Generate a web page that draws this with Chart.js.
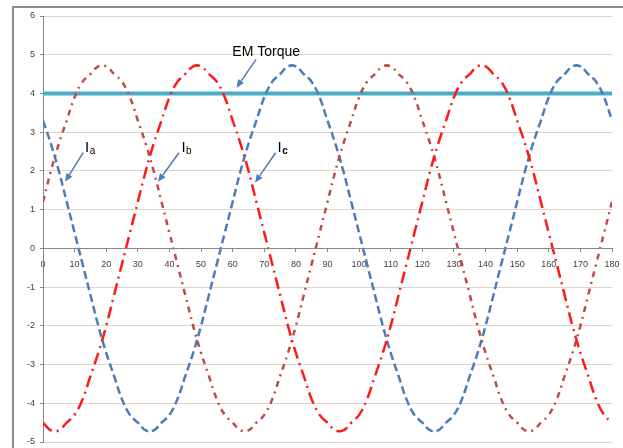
<!DOCTYPE html>
<html>
<head>
<meta charset="utf-8">
<script src="https://cdn.jsdelivr.net/npm/chart.js"></script>
<style>
  body { margin: 0; background: #fff; overflow: hidden; }
  #wrap { position: relative; width: 623px; height: 448px; }
  #frame { position: absolute; left: 12px; top: 6px; width: 700px; height: 600px;
           border-left: 2px solid #8c8c8c; border-top: 2px solid #8c8c8c; }
  canvas { position: absolute; left: 0; top: 0; }
</style>
</head>
<body>
<div id="wrap">
  <div id="frame"></div>
  <canvas id="chart"></canvas>
</div>
<script>
// angle (deg) along the x axis
const angles = [0,2.5,5,7.5,10,12.5,15,17.5,20,22.5,25,27.5,30,32.5,35,37.5,40,42.5,45,47.5,
  50,52.5,55,57.5,60,62.5,65,67.5,70,72.5,75,77.5,80,82.5,85,87.5,90,92.5,95,97.5,
  100,102.5,105,107.5,110,112.5,115,117.5,120,122.5,125,127.5,130,132.5,135,137.5,140,142.5,145,147.5,
  150,152.5,155,157.5,160,162.5,165,167.5,170,172.5,175,177.5,180];

// phase currents
const currentA = [3.3,2.7,2.0,1.2,0.4,-0.4,-1.2,-2.0,-2.7,-3.3,-3.9,-4.3,-4.5,-4.7,-4.7,-4.5,-4.3,-3.9,-3.3,-2.7,
  -2.0,-1.2,-0.4,0.4,1.2,2.0,2.7,3.3,3.9,4.3,4.5,4.7,4.7,4.5,4.3,3.9,
  3.3,2.7,2.0,1.2,0.4,-0.4,-1.2,-2.0,-2.7,-3.3,-3.9,-4.3,-4.5,-4.7,-4.7,-4.5,-4.3,-3.9,-3.3,-2.7,
  -2.0,-1.2,-0.4,0.4,1.2,2.0,2.7,3.3,3.9,4.3,4.5,4.7,4.7,4.5,4.3,3.9,3.3];
const currentB = [1.2,2.0,2.7,3.3,3.9,4.3,4.5,4.7,4.7,4.5,4.3,3.9,3.3,2.7,2.0,1.2,0.4,-0.4,-1.2,-2.0,
  -2.7,-3.3,-3.9,-4.3,-4.5,-4.7,-4.7,-4.5,-4.3,-3.9,-3.3,-2.7,-2.0,-1.2,-0.4,0.4,
  1.2,2.0,2.7,3.3,3.9,4.3,4.5,4.7,4.7,4.5,4.3,3.9,3.3,2.7,2.0,1.2,0.4,-0.4,-1.2,-2.0,
  -2.7,-3.3,-3.9,-4.3,-4.5,-4.7,-4.7,-4.5,-4.3,-3.9,-3.3,-2.7,-2.0,-1.2,-0.4,0.4,1.2];
const currentC = [-4.5,-4.7,-4.7,-4.5,-4.3,-3.9,-3.3,-2.7,-2.0,-1.2,-0.4,0.4,1.2,2.0,2.7,3.3,3.9,4.3,4.5,4.7,
  4.7,4.5,4.3,3.9,3.3,2.7,2.0,1.2,0.4,-0.4,-1.2,-2.0,-2.7,-3.3,-3.9,-4.3,
  -4.5,-4.7,-4.7,-4.5,-4.3,-3.9,-3.3,-2.7,-2.0,-1.2,-0.4,0.4,1.2,2.0,2.7,3.3,3.9,4.3,4.5,4.7,
  4.7,4.5,4.3,3.9,3.3,2.7,2.0,1.2,0.4,-0.4,-1.2,-2.0,-2.7,-3.3,-3.9,-4.3,-4.5];

// EM torque (flat)
const torqueAngles = [0, 180];
const torqueValues = [4, 4];

// callouts, in data units: label, subscript, text anchor, arrow start, arrow tip
const callouts = [
  { text: 'EM Torque', sub: '', at: [70.6, 5.06], from: [67.4, 4.88], to: [61.2, 4.15] },
  { text: 'I', sub: 'a', at: [13.3, 2.50], from: [12.7, 2.47], to: [7.0, 1.72] },
  { text: 'I', sub: 'b', at: [43.8, 2.50], from: [43.0, 2.47], to: [36.4, 1.72] },
  { text: 'I', sub: 'c', at: [74.2, 2.50], from: [73.6, 2.47], to: [67.1, 1.70], bold: true }
];

const pts = (xs, ys) => xs.map((x, i) => ({ x: x, y: ys[i] }));

const calloutPlugin = {
  id: 'callouts',
  afterDatasetsDraw(chart) {
    const ctx = chart.ctx;
    const sx = chart.scales.x, sy = chart.scales.y;
    ctx.save();
    callouts.forEach(c => {
      const ax = sx.getPixelForValue(c.from[0]), ay = sy.getPixelForValue(c.from[1]);
      const bx = sx.getPixelForValue(c.to[0]), by = sy.getPixelForValue(c.to[1]);
      const ang = Math.atan2(by - ay, bx - ax);
      const head = 8, half = 3.5;
      const hx = bx - head * Math.cos(ang), hy = by - head * Math.sin(ang);
      ctx.strokeStyle = '#4a7ebb';
      ctx.fillStyle = '#4a7ebb';
      ctx.lineWidth = 1.5;
      ctx.beginPath();
      ctx.moveTo(ax, ay);
      ctx.lineTo(hx, hy);
      ctx.stroke();
      ctx.beginPath();
      ctx.moveTo(bx, by);
      ctx.lineTo(hx + half * Math.sin(ang), hy - half * Math.cos(ang));
      ctx.lineTo(hx - half * Math.sin(ang), hy + half * Math.cos(ang));
      ctx.closePath();
      ctx.fill();

      const tx = sx.getPixelForValue(c.at[0]), ty = sy.getPixelForValue(c.at[1]);
      ctx.fillStyle = '#000';
      if (!c.sub) {
        ctx.font = '14px "Liberation Sans", Arial, sans-serif';
        ctx.textAlign = 'center';
        ctx.textBaseline = 'middle';
        ctx.fillText(c.text, tx, ty);
      } else {
        ctx.textAlign = 'left';
        ctx.textBaseline = 'alphabetic';
        ctx.font = '15px "Liberation Sans", Arial, sans-serif';
        ctx.fillText(c.text, tx, ty);
        const w = ctx.measureText(c.text).width;
        ctx.font = (c.bold ? 'bold ' : '') + '10px "Liberation Sans", Arial, sans-serif';
        ctx.fillText(c.sub, tx + w + 0.5, ty + 2.5);
      }
    });
    ctx.restore();
  }
};

const tickFont = { family: '"Liberation Sans", Arial, sans-serif', size: 9 };

new Chart(document.getElementById('chart'), {
  type: 'line',
  data: {
    datasets: [
      {
        label: 'EM Torque',
        data: pts(torqueAngles, torqueValues),
        borderColor: '#4bacc6',
        borderWidth: 4,
        pointRadius: 0,
        order: 4
      },
      {
        label: 'Ia',
        data: pts(angles, currentA),
        borderColor: '#4a7ebb',
        borderWidth: 2.5,
        borderDash: [8, 4],
        pointRadius: 0,
        tension: 0.4,
        order: 3
      },
      {
        label: 'Ib',
        data: pts(angles, currentB),
        borderColor: '#be4b48',
        borderWidth: 2.5,
        borderDash: [6, 5, 2, 5],
        pointRadius: 0,
        tension: 0.4,
        order: 2
      },
      {
        label: 'Ic',
        data: pts(angles, currentC),
        borderColor: '#ff1a1a',
        borderWidth: 2.5,
        borderDash: [12, 5, 2, 5],
        pointRadius: 0,
        tension: 0.4,
        order: 1
      }
    ]
  },
  options: {
    responsive: true,
    maintainAspectRatio: false,
    animation: false,
    layout: { padding: { left: 0, right: 11, top: 16, bottom: 6 } },
    plugins: {
      legend: { display: false },
      tooltip: { enabled: false }
    },
    scales: {
      x: {
        type: 'linear',
        min: 0,
        max: 180,
        position: { y: 0 },
        afterFit: (scale) => { scale.paddingLeft = 0; scale.paddingRight = 0; },
        ticks: { stepSize: 10, font: tickFont, color: '#404040', padding: 8, maxRotation: 0 },
        grid: { display: true, drawOnChartArea: false, drawTicks: true, tickLength: 3, color: '#868686' },
        border: { display: true, color: '#868686', width: 1, z: 1 }
      },
      y: {
        min: -5,
        max: 6,
        position: 'left',
        afterFit: (scale) => { scale.width = 43; scale.paddingTop = 0; scale.paddingBottom = 0; },
        ticks: { stepSize: 1, font: tickFont, color: '#404040', padding: 5 },
        grid: { color: '#dcd6c2', tickColor: '#868686', tickLength: 3, lineWidth: 1 },
        border: { display: true, color: '#868686', width: 1 }
      }
    }
  },
  plugins: [calloutPlugin]
});
</script>
</body>
</html>
